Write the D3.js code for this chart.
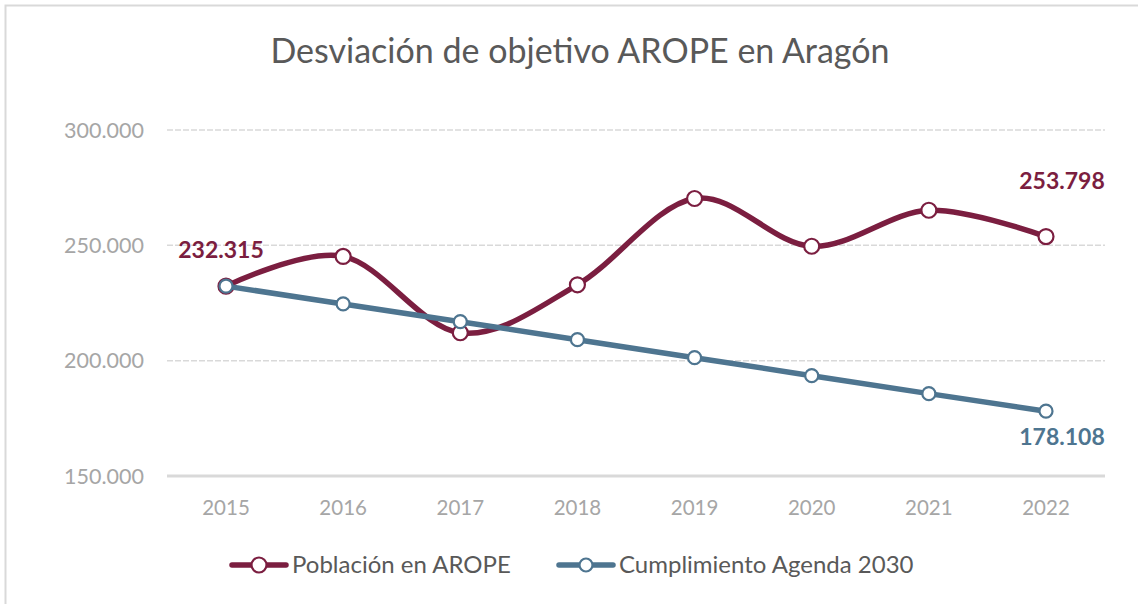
<!DOCTYPE html>
<html>
<head>
<meta charset="utf-8">
<script src="https://cdn.jsdelivr.net/npm/d3@7"></script>
<style>
  body { margin: 0; background: #fff; }
  svg { display: block; font-family: Lato, "Open Sans", sans-serif; }
</style>
</head>
<body>
<div id="chart"></div>
<script>
var years = ["2015", "2016", "2017", "2018", "2019", "2020", "2021", "2022"];
var arope = [232315, 245200, 212100, 232900, 270300, 249600, 265200, 253798];
var agenda = [232315, 224600, 216900, 209100, 201300, 193500, 185700, 178108];
var yTicks = [150000, 200000, 250000, 300000];
var seriesNames = ["Población en AROPE", "Cumplimiento Agenda 2030"];

var width = 1138, height = 604;
var colorArope = "#7b1e40", colorAgenda = "#4e7590";

var svg = d3.select("#chart").append("svg")
    .attr("width", width)
    .attr("height", height);

// outer frame
svg.append("rect")
    .attr("x", 5.5).attr("y", 5.5)
    .attr("width", width + 20).attr("height", height + 20)
    .attr("fill", "none")
    .attr("stroke", "#d9d9d9")
    .attr("stroke-width", 2);

var x = d3.scalePoint()
    .domain(years)
    .range([226, 1046]);

var y = d3.scaleLinear()
    .domain([150000, 300000])
    .range([476, 130]);

var fmt = function(v) {
    return d3.format(",.0f")(v).replace(/,/g, ".");
};

svg.append("text")
    .attr("x", 580).attr("y", 63)
    .attr("text-anchor", "middle")
    .attr("font-size", 34)
    .attr("fill", "#595959")
    .text("Desviación de objetivo AROPE en Aragón");

// gridlines
svg.append("g")
    .selectAll("line")
    .data(yTicks.filter(function(d) { return d > 150000; }))
    .enter().append("line")
    .attr("x1", 167).attr("x2", 1105)
    .attr("y1", function(d) { return y(d); })
    .attr("y2", function(d) { return y(d); })
    .attr("stroke", "#d9d9d9")
    .attr("stroke-width", 1.5)
    .attr("stroke-dasharray", "6,2");

// base axis line
svg.append("line")
    .attr("x1", 167).attr("x2", 1105)
    .attr("y1", y(150000)).attr("y2", y(150000))
    .attr("stroke", "#d9d9d9")
    .attr("stroke-width", 3);

// y labels
svg.append("g")
    .selectAll("text")
    .data(yTicks)
    .enter().append("text")
    .attr("x", 144)
    .attr("y", function(d) { return y(d) + 7.5; })
    .attr("text-anchor", "end")
    .attr("font-size", 21.5)
    .attr("fill", "#a6a6a6")
    .text(fmt);

// x labels
svg.append("g")
    .selectAll("text")
    .data(years)
    .enter().append("text")
    .attr("x", function(d) { return x(d); })
    .attr("y", 515)
    .attr("text-anchor", "middle")
    .attr("font-size", 20.5)
    .attr("fill", "#a6a6a6")
    .text(function(d) { return d; });

var smooth = d3.line()
    .x(function(d, i) { return x(years[i]); })
    .y(function(d) { return y(d); })
    .curve(d3.curveCardinal.tension(0));

var straight = d3.line()
    .x(function(d, i) { return x(years[i]); })
    .y(function(d) { return y(d); });

function drawSeries(data, lineGen, color) {
    svg.append("path")
        .attr("d", lineGen(data))
        .attr("fill", "none")
        .attr("stroke", color)
        .attr("stroke-width", 5.5)
        .attr("stroke-linejoin", "round")
        .attr("stroke-linecap", "round");
}
function drawMarkers(data, color, r) {
    svg.append("g")
        .selectAll("circle")
        .data(data)
        .enter().append("circle")
        .attr("cx", function(d, i) { return x(years[i]); })
        .attr("cy", function(d) { return y(d); })
        .attr("r", r)
        .attr("fill", "#fff")
        .attr("stroke", color)
        .attr("stroke-width", 2.2);
}

drawSeries(arope, smooth, colorArope);
drawMarkers(arope, colorArope, 7.5);
drawSeries(agenda, straight, colorAgenda);
drawMarkers(agenda, colorAgenda, 6.5);

// data labels
var labels = [
    { v: arope[0], i: 0, dx: -5, dy: -28, c: colorArope },
    { v: arope[7], i: 7, dx: 16, dy: -48, c: colorArope },
    { v: agenda[7], i: 7, dx: 16, dy: 34, c: colorAgenda }
];
svg.append("g")
    .selectAll("text")
    .data(labels)
    .enter().append("text")
    .attr("x", function(d) { return x(years[d.i]) + d.dx; })
    .attr("y", function(d) { return y(d.v) + d.dy; })
    .attr("text-anchor", "middle")
    .attr("font-size", 23)
    .attr("font-weight", "bold")
    .attr("fill", function(d) { return d.c; })
    .text(function(d) { return fmt(d.v); });

// legend
var legend = [
    { name: seriesNames[0], c: colorArope, x: 232, r: 7.5 },
    { name: seriesNames[1], c: colorAgenda, x: 559, r: 6.5 }
];
var lg = svg.append("g").selectAll("g")
    .data(legend)
    .enter().append("g")
    .attr("transform", function(d) { return "translate(" + d.x + ",565)"; });
lg.append("line")
    .attr("x1", 0).attr("x2", 54)
    .attr("stroke", function(d) { return d.c; })
    .attr("stroke-width", 5.5)
    .attr("stroke-linecap", "round");
lg.append("circle")
    .attr("cx", 27).attr("r", function(d) { return d.r; })
    .attr("fill", "#fff")
    .attr("stroke", function(d) { return d.c; })
    .attr("stroke-width", 2.2);
lg.append("text")
    .attr("x", 60).attr("y", 8)
    .attr("font-size", 24)
    .attr("fill", "#595959")
    .text(function(d) { return d.name; });
</script>
</body>
</html>
